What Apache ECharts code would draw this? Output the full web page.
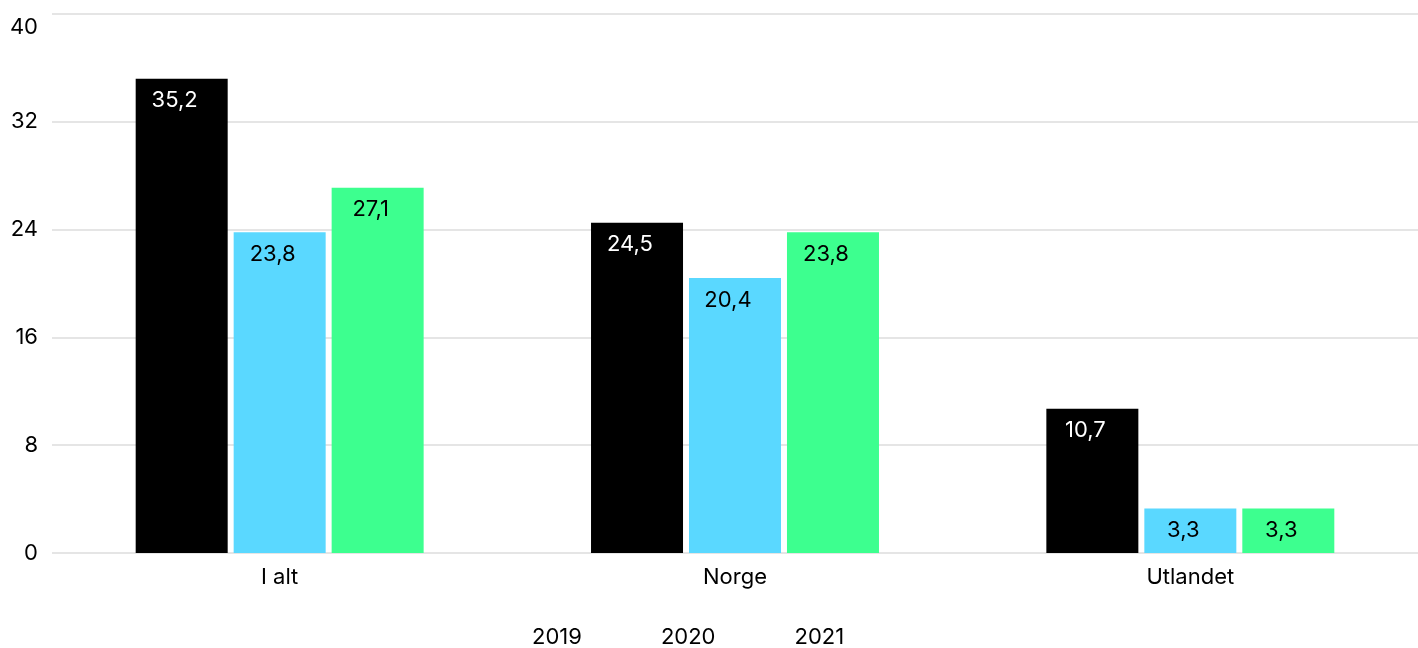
<!DOCTYPE html>
<html><head><meta charset="utf-8">
<script src="https://cdn.jsdelivr.net/npm/echarts@6/dist/echarts.min.js"></script>
<style>html,body{margin:0;padding:0;background:#fff}#c{width:1418px;height:648px}</style>
</head><body><div id="c"></div>
<script>
const categories = ['I alt', 'Norge', 'Utlandet'];
const seriesNames = ['2019', '2020', '2021'];
const v2019 = [35.2, 24.5, 10.7];
const v2020 = [23.8, 20.4, 3.3];
const v2021 = [27.1, 23.8, 3.3];
const colors = ['#000000', '#5ad8ff', '#3dff8f'];
const labelColors = ['#ffffff', '#000000', '#000000'];
const font = 'Inter, "Noto Sans", sans-serif';
const chart = echarts.init(document.getElementById('c'));
const mk = (name, data, i) => ({
  name, type: 'bar', data, barWidth: 92, barGap: '6.5%',
  itemStyle: { color: colors[i] },
  label: {
    show: true, position: 'insideTop', distance: 11, offset: [-7, 0],
    color: labelColors[i], fontFamily: font, fontSize: 22,
    formatter: p => String(p.value).replace('.', ',')
  }
});
chart.setOption({
  animation: false,
  textStyle: { fontFamily: font },
  grid: { left: 52, right: 0, top: 14, bottom: 95, containLabel: false },
  legend: {
    left: 522, top: 621, icon: 'rect', itemWidth: 0, itemHeight: 0, itemGap: 74,
    textStyle: { fontFamily: font, fontSize: 22, color: '#000' },
    data: seriesNames
  },
  xAxis: {
    type: 'category', data: categories,
    axisLine: { show: false }, axisTick: { show: false },
    axisLabel: { fontFamily: font, fontSize: 22, color: '#000', margin: 13 }
  },
  yAxis: {
    type: 'value', min: 0, max: 40, interval: 8,
    axisLine: { show: false }, axisTick: { show: false },
    splitLine: { lineStyle: { color: '#dcdcdc', width: 1.5 } },
    axisLabel: {
      fontFamily: font, fontSize: 22, color: '#000', margin: 14,
      formatter: v => v === 40 ? '{top|' + v + '}' : String(v),
      rich: { top: { fontFamily: font, fontSize: 22, color: '#000', padding: [26, 0, 0, 0] } }
    }
  },
  series: [mk(seriesNames[0], v2019, 0), mk(seriesNames[1], v2020, 1), mk(seriesNames[2], v2021, 2)]
});
</script></body></html>
